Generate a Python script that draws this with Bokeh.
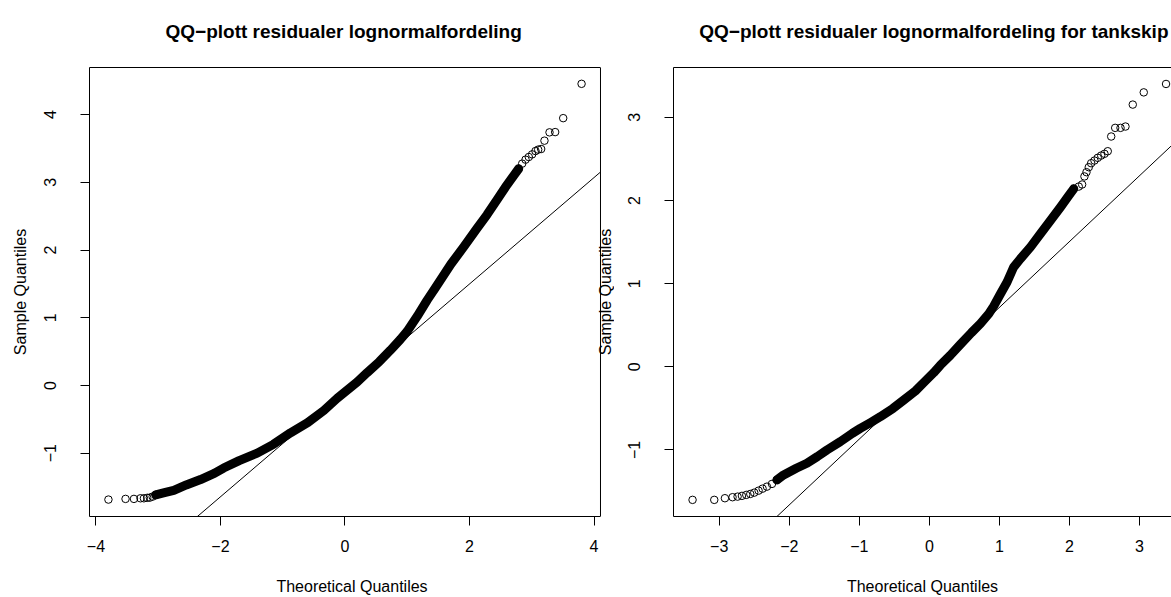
import math
from bokeh.plotting import figure
from bokeh.layouts import row
from bokeh.models import Range1d, FixedTicker, LinearAxis, Label, Span
from bokeh.embed import file_html
from bokeh.resources import INLINE

FONT = "Liberation Sans"

# ---------------- residuals, all ships (lognormal model) ----------------
all_low_theo = [-3.80, -3.525, -3.39, -3.285, -3.23, -3.176, -3.135, -3.09, -3.04]
all_low_samp = [-1.686, -1.676, -1.676, -1.667, -1.667, -1.660, -1.657, -1.642, -1.617]

all_mid_theo = [-3.04, -2.90, -2.75, -2.55, -2.32, -2.10, -1.95, -1.70, -1.41, -1.15,
                -0.875, -0.60, -0.34, -0.125, 0.196, 0.357, 0.55, 0.73, 0.89, 1.00,
                1.16, 1.32, 1.45, 1.55, 1.70, 1.91, 2.12, 2.28, 2.44, 2.60, 2.71, 2.79]
all_mid_samp = [-1.617, -1.585, -1.549, -1.47, -1.39, -1.30, -1.22, -1.11, -1.00, -0.87,
                -0.70, -0.55, -0.37, -0.19, 0.05, 0.19, 0.35, 0.52, 0.68, 0.80,
                1.02, 1.26, 1.44, 1.58, 1.79, 2.05, 2.32, 2.52, 2.74, 2.96, 3.10, 3.20]

all_high_theo = [2.79, 2.846, 2.90, 2.952, 3.006, 3.06, 3.103, 3.151, 3.204, 3.285, 3.376, 3.505, 3.80]
all_high_samp = [3.20, 3.276, 3.335, 3.374, 3.413, 3.462, 3.483, 3.492, 3.615, 3.738, 3.742, 3.948, 4.455]

all_quartiles = [-0.603, 0.457]   # sample Q1, Q3 used by the reference line

# ---------------- residuals, tankers ----------------
tank_low_theo = [-3.381, -3.071, -2.919, -2.81, -2.738, -2.676, -2.614, -2.557, -2.50,
                 -2.438, -2.381, -2.319, -2.247, -2.176]
tank_low_samp = [-1.600, -1.600, -1.580, -1.568, -1.561, -1.552, -1.540, -1.529, -1.513,
                 -1.489, -1.465, -1.441, -1.408, -1.360]

tank_mid_theo = [-2.176, -2.081, -1.90, -1.748, -1.60, -1.462, -1.271, -1.10, -0.986, -0.84,
                 -0.70, -0.52, -0.367, -0.20, -0.081, 0.062, 0.157, 0.30, 0.443, 0.60,
                 0.729, 0.85, 0.919, 1.01, 1.11, 1.204, 1.30, 1.443, 1.586, 1.729, 1.871,
                 1.99, 2.061]
tank_mid_samp = [-1.360, -1.300, -1.22, -1.16, -1.08, -1.00, -0.90, -0.80, -0.74, -0.67,
                 -0.60, -0.50, -0.40, -0.29, -0.19, -0.07, 0.02, 0.14, 0.27, 0.41,
                 0.52, 0.64, 0.73, 0.87, 1.02, 1.20, 1.30, 1.44, 1.60, 1.76, 1.92,
                 2.06, 2.141]

tank_high_theo = [2.061, 2.133, 2.181, 2.214, 2.243, 2.276, 2.31, 2.357, 2.404, 2.453, 2.50,
                  2.547, 2.596, 2.653, 2.729, 2.80, 2.904, 3.061, 3.379]
tank_high_samp = [2.141, 2.168, 2.193, 2.29, 2.341, 2.401, 2.449, 2.481, 2.514, 2.541, 2.562,
                  2.593, 2.77, 2.874, 2.874, 2.89, 3.154, 3.301, 3.402]

tank_quartiles = [-0.611, 0.457]

# ---------------- axis ticks ----------------
all_xticks = [-4, -2, 0, 2, 4]
all_yticks = [-1, 0, 1, 2, 3, 4]
tank_xticks = [-3, -2, -1, 0, 1, 2, 3]
tank_yticks = [-1, 0, 1, 2, 3]

Z25 = -0.6744897501960817  # standard normal lower quartile


def tick_text(v):
    return ("\u2212" + str(abs(v))) if v < 0 else str(v)


def style_axis(ax, ticks, label, vertical, label_standoff, title_standoff):
    ax.ticker = FixedTicker(ticks=ticks)
    ax.major_label_overrides = {t: tick_text(t) for t in ticks}
    ax.axis_label = label
    ax.axis_label_text_font = FONT
    ax.axis_label_text_font_size = "16px"
    ax.axis_label_text_font_style = "normal"
    ax.axis_label_text_color = "black"
    ax.axis_label_standoff = title_standoff
    ax.major_label_text_font = FONT
    ax.major_label_text_font_size = "16px"
    ax.major_label_text_color = "black"
    ax.major_label_standoff = label_standoff
    ax.axis_line_color = "black"
    ax.axis_line_width = 1
    ax.major_tick_line_color = "black"
    ax.major_tick_in = 0
    ax.major_tick_out = 9
    ax.minor_tick_line_color = None
    if vertical:
        ax.major_label_orientation = "vertical"


def qq_panel(title, width, border_left, box_x, frame_x, yr, low, mid, high, quart,
             xticks, yticks, ylabel):
    p = figure(width=width, height=597, x_range=Range1d(*frame_x), y_range=Range1d(*yr),
               output_backend="svg", toolbar_location=None,
               min_border_left=border_left, min_border_right=0,
               min_border_top=67, min_border_bottom=80)
    p.xgrid.visible = False
    p.ygrid.visible = False
    p.background_fill_color = "white"
    p.border_fill_color = "white"
    p.outline_line_color = None

    style_axis(p.below[0], xticks, "Theoretical Quantiles", False, 14, 23)
    style_axis(p.left[0], yticks, ylabel, True, 24, 13)
    p.below[0].bounds = box_x

    # box around the plotting region: top edge as a bare axis line,
    # right edge as a vertical rule where the box ends
    top = LinearAxis(ticker=FixedTicker(ticks=[]), axis_line_color="black",
                     major_tick_line_color=None, minor_tick_line_color=None,
                     major_tick_out=0, major_tick_in=0, major_label_standoff=0,
                     bounds=box_x)
    p.add_layout(top, "above")
    if box_x[1] <= frame_x[1]:
        p.add_layout(Span(location=box_x[1], dimension="height",
                          line_color="black", line_width=1))

    # an empty second line keeps the heading well clear of the box
    p.title.text = title + "\n "
    p.title.text_font = FONT
    p.title.text_font_size = "19px"
    p.title.text_font_style = "bold"
    p.title.text_color = "black"
    p.title.standoff = 10

    # dense central part of the sample: overlapping points form a solid band
    p.line(mid[0], mid[1], line_color="black", line_width=9,
           line_cap="round", line_join="round")
    # sparse tail points as open circles
    for xs, ys in (low, high):
        p.scatter(xs, ys, marker="circle", size=7.5, fill_color=None,
                  line_color="black", line_width=1)

    # reference line through the quartiles, ending at the box edges
    q1, q3 = quart
    grad = (q3 - q1) / (-2 * Z25)
    icpt = q1 - grad * Z25
    lx = [box_x[0], box_x[1]]
    p.line(lx, [icpt + grad * v for v in lx], line_color="black", line_width=1)
    return p


left = qq_panel("QQ\u2212plott residualer lognormalfordeling", 614, 89,
                (-4.104, 4.104), (-4.104, 4.329), (-1.936, 4.696),
                (all_low_theo, all_low_samp), (all_mid_theo, all_mid_samp),
                (all_high_theo, all_high_samp), all_quartiles,
                all_xticks, all_yticks, "Sample Quantiles")
left.title.align = "left"
left.title.offset = 76

right = qq_panel("QQ\u2212plott residualer lognormalfordeling for tankskip", 557, 59,
                 (-3.653, 3.653), (-3.653, 3.457), (-1.80, 3.60),
                 (tank_low_theo, tank_low_samp), (tank_mid_theo, tank_mid_samp),
                 (tank_high_theo, tank_high_samp), tank_quartiles,
                 tank_xticks, tank_yticks, None)
right.title.align = "right"
right.title.offset = 3

# y-axis title of the right panel, sitting in the gap between the panels
left.add_layout(Label(x=4.184, y=1.38, x_units="data", y_units="data",
                      text="Sample Quantiles", angle=math.pi / 2,
                      text_align="center", text_baseline="middle",
                      text_font=FONT, text_font_size="16px", text_color="black"))

layout = row(left, right)
open("out.html", "w").write(file_html(layout, INLINE))
